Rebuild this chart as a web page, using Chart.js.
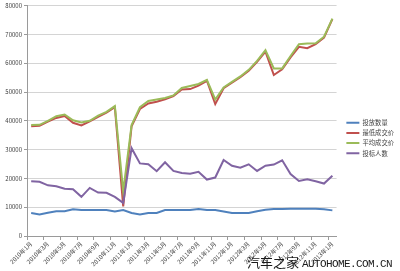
<!DOCTYPE html>
<html>
<head>
<meta charset="utf-8">
<script src="https://cdn.jsdelivr.net/npm/chart.js@4.4.1/dist/chart.umd.min.js"></script>
<style>
    body { margin: 0; background: #fff; }
    #wrap { position: relative; width: 400px; height: 271px; overflow: hidden; }
    #watermark { position: absolute; left: 247px; top: 252px; white-space: nowrap; color: #1a1a1a; }
    #watermark .cn { font: 13px "Noto Sans CJK SC"; }
    #watermark .en { font: 11px "Liberation Mono"; letter-spacing: -0.6px; margin-left: 3px; }
</style>
</head>
<body>
<div id="wrap">
    <canvas id="auction-graph" width="400" height="271"></canvas>
    <div id="watermark"><span class="cn">汽车之家</span><span class="en">AUTOHOME.COM.CN</span></div>
</div>
<script>
var months = [
    '2010年1月', '2010年2月', '2010年3月', '2010年4月', '2010年5月', '2010年6月',
    '2010年7月', '2010年8月', '2010年9月', '2010年10月', '2010年11月', '2010年12月',
    '2011年1月', '2011年2月', '2011年3月', '2011年4月', '2011年5月', '2011年6月',
    '2011年7月', '2011年8月', '2011年9月', '2011年10月', '2011年11月', '2011年12月',
    '2012年1月', '2012年2月', '2012年3月', '2012年4月', '2012年5月', '2012年6月',
    '2012年7月', '2012年8月', '2012年9月', '2012年10月', '2012年11月', '2012年12月',
    '2013年1月'
];
var seriesNames = ['投放数量', '最低成交价', '平均成交价', '投标人数'];
var seriesColors = ['#4F81BD', '#C0504D', '#9BBB59', '#8064A2'];

var quotaData = [8000, 7500, 8100, 8600, 8600, 9300, 9000, 9000, 9000, 9000, 8500, 9000,
    8000, 7500, 8000, 8000, 9000, 9000, 9000, 9000, 9400, 9000, 9000, 8500,
    8000, 8000, 8000, 8600, 9100, 9400, 9400, 9500, 9500, 9500, 9500, 9300, 8900];
var lowestPrice = [38100, 38300, 39700, 41000, 41700, 39300, 38400, 39800, 41400, 42800, 44700, 10300,
    38100, 44100, 46000, 46600, 47500, 48600, 50900, 51000, 52200, 53900, 45800, 51300,
    53200, 55100, 57400, 60500, 64000, 55900, 57900, 62000, 65700, 65200, 66600, 68900, 75300];
var averagePrice = [38500, 38600, 40000, 41600, 42200, 40200, 39400, 40000, 41800, 43100, 45100, 15500,
    38500, 44700, 46900, 47400, 47900, 48800, 51400, 52100, 52800, 54200, 47400, 51600,
    53500, 55400, 57700, 60800, 64500, 58200, 58200, 62500, 66600, 66800, 66900, 69200, 75500];
var bidderCount = [19000, 18800, 17600, 17300, 16400, 16200, 13600, 16700, 15100, 15000, 13600, 11500,
    30500, 25200, 24900, 22500, 25600, 22600, 21900, 21600, 22300, 19600, 20300, 26400,
    24400, 23700, 24900, 22600, 24400, 24800, 26300, 21500, 19100, 19700, 19000, 18200, 20900];

var yAxisMax = 80000;
var yAxisStep = 10000;

// nudge the legend items to the right of the plot, like the excel original
var legendShift = {
    id: 'legendShift',
    afterLayout: function (chart) {
        var lg = chart.legend;
        if (lg) {
            lg.left += 6;
            lg.right += 6;
        }
    }
};

var auctionGraph = {
    ui: {
        canvas: document.getElementById('auction-graph')
    },
    init: function () {
        Chart.defaults.font.family = '"Noto Sans CJK SC", "Noto Sans", sans-serif';
        Chart.defaults.color = '#404040';
        auctionGraph.loadGraph();
    },
    makeDataset: function (index, values, drawOrder) {
        return {
            label: seriesNames[index],
            data: values,
            borderColor: seriesColors[index],
            backgroundColor: seriesColors[index],
            borderWidth: 2,
            pointRadius: 0,
            tension: 0,
            order: drawOrder
        };
    },
    legendLabels: function (chart) {
        var items = Chart.defaults.plugins.legend.labels.generateLabels(chart);
        return items.map(function (item) {
            item.strokeStyle = 'rgba(0,0,0,0)';
            item.lineWidth = 1;
            return item;
        });
    },
    loadGraph: function () {
        var ctx = auctionGraph.ui.canvas.getContext('2d');
        var myChart = new Chart(ctx, {
            type: 'line',
            data: {
                labels: months,
                datasets: [
                    auctionGraph.makeDataset(0, quotaData, 3),
                    auctionGraph.makeDataset(1, lowestPrice, 2),
                    auctionGraph.makeDataset(2, averagePrice, 1),
                    auctionGraph.makeDataset(3, bidderCount, 0)
                ]
            },
            plugins: [legendShift],
            options: {
                responsive: false,
                animation: false,
                layout: { padding: { top: 5, right: 2, left: 0, bottom: 0 } },
                plugins: {
                    tooltip: { enabled: false },
                    legend: {
                        position: 'right',
                        labels: {
                            boxWidth: 13,
                            boxHeight: 2,
                            padding: 3.8,
                            font: { size: 6.3 },
                            color: '#404040',
                            generateLabels: auctionGraph.legendLabels,
                            sort: function (a, b) { return a.datasetIndex - b.datasetIndex; }
                        }
                    }
                },
                scales: {
                    x: {
                        offset: true,
                        grid: {
                            offset: true,
                            drawOnChartArea: false,
                            tickLength: 4,
                            color: function (c) { return c.index % 2 === 0 ? '#9a9a9a' : 'rgba(0,0,0,0)'; }
                        },
                        border: { color: '#9a9a9a' },
                        ticks: {
                            autoSkip: false,
                            maxRotation: 45,
                            minRotation: 45,
                            padding: 0,
                            font: { size: 6 },
                            callback: function (val, idx) { return idx % 2 === 0 ? months[idx] : ''; }
                        },
                        afterFit: function (scale) { scale.height = 35; }
                    },
                    y: {
                        min: 0,
                        max: yAxisMax,
                        ticks: {
                            stepSize: yAxisStep,
                            padding: 2,
                            font: { size: 6 },
                            callback: function (val) { return String(val); }
                        },
                        grid: { color: '#d4d4d4', tickColor: '#9a9a9a', tickLength: 3 },
                        border: { color: '#9a9a9a' },
                        afterFit: function (scale) { scale.width = 27; }
                    }
                }
            }
        });
    }
};

auctionGraph.init();
</script>
</body>
</html>
